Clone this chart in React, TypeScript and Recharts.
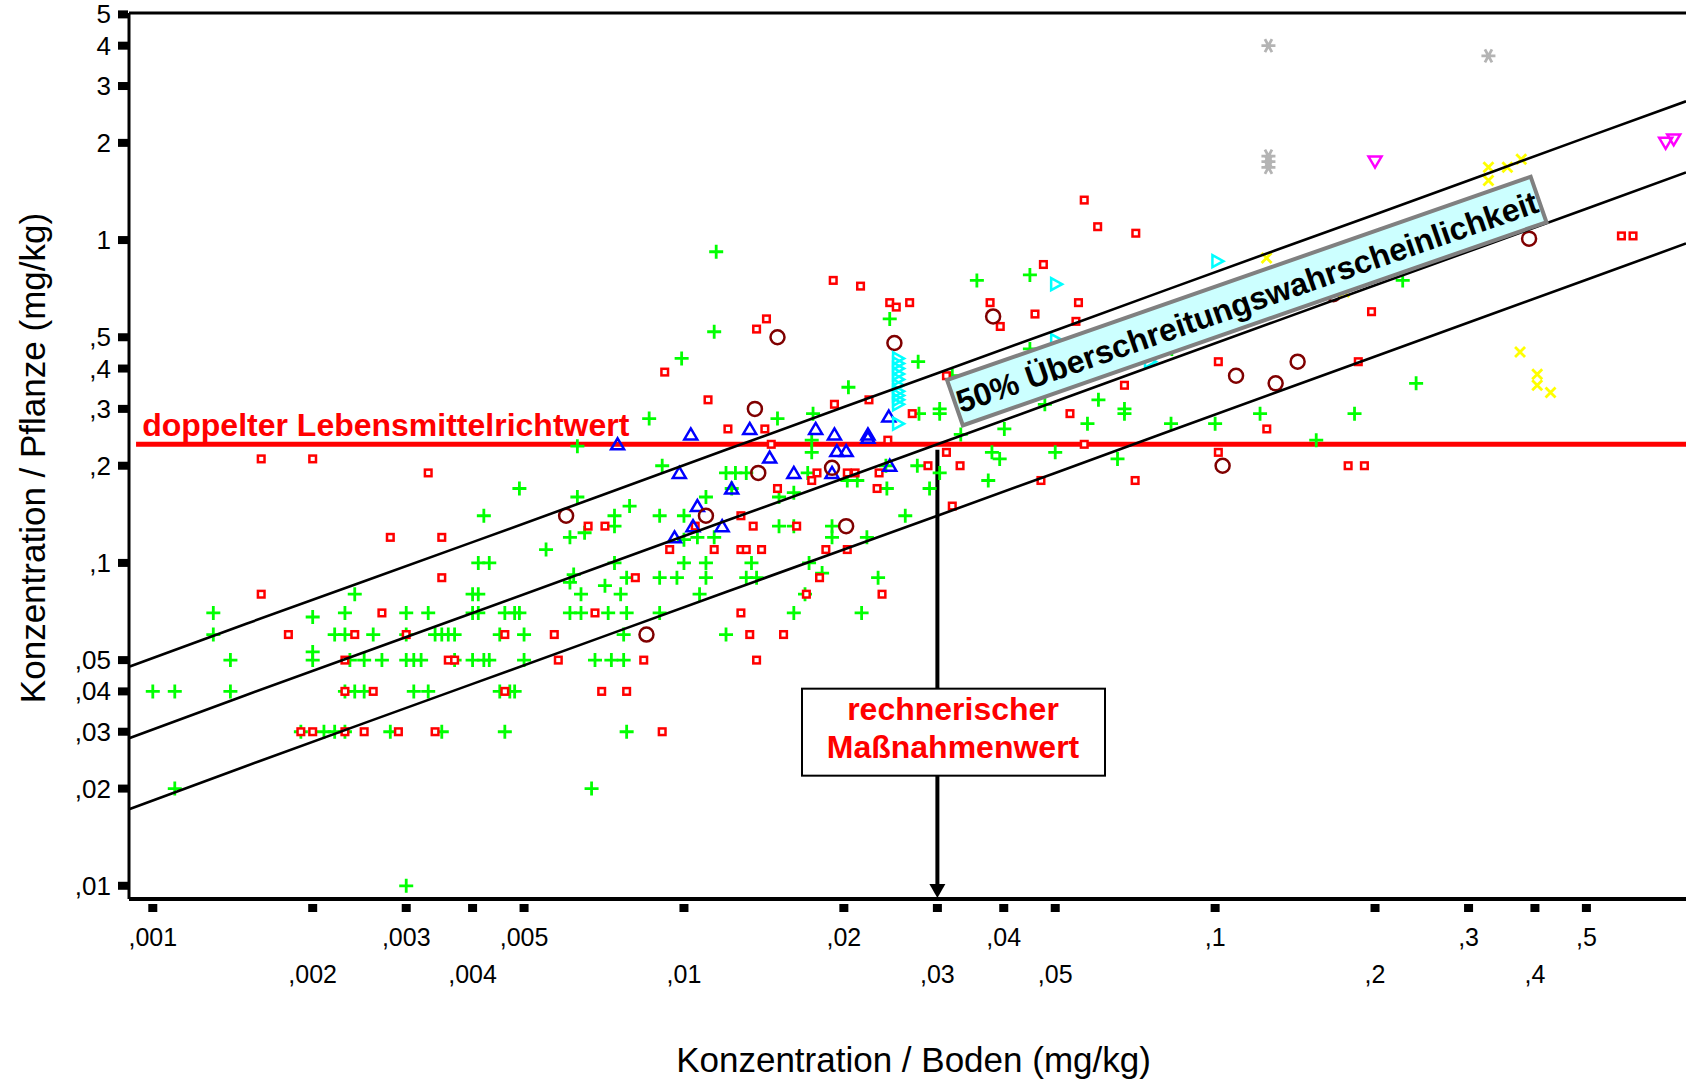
import React from "react";
import { ScatterChart, Scatter, XAxis, YAxis, ReferenceLine, ReferenceDot } from "recharts";

const FONT = '"Liberation Sans", Arial, Helvetica, sans-serif';

// axis ranges (log-log)
const X_MIN = 0.000902;
const X_MAX = 0.77;
const Y_MIN = 0.0091;
const Y_MAX = 5.05;

const X_TICKS = [0.001, 0.002, 0.003, 0.004, 0.005, 0.01, 0.02, 0.03, 0.04, 0.05, 0.1, 0.2, 0.3, 0.4, 0.5];
const X_TICK_LABELS = [",001", ",002", ",003", ",004", ",005", ",01", ",02", ",03", ",04", ",05", ",1", ",2", ",3", ",4", ",5"];
const X_TICK_ROW = [0, 1, 0, 1, 0, 1, 0, 1, 0, 1, 0, 1, 0, 1, 0];

const Y_TICKS = [0.01, 0.02, 0.03, 0.04, 0.05, 0.1, 0.2, 0.3, 0.4, 0.5, 1, 2, 3, 4, 5];
const Y_TICK_LABELS = [",01", ",02", ",03", ",04", ",05", ",1", ",2", ",3", ",4", ",5", "1", "2", "3", "4", "5"];

// reference values
const RICHTWERT = 0.233; // doppelter Lebensmittelrichtwert
const MASSNAHMENWERT = 0.03; // rechnerischer Maßnahmenwert (Boden)

// regression line and 50% band
const LINE_X = [0.000905, 0.0015, 0.0025, 0.004, 0.007, 0.012, 0.02, 0.03, 0.05, 0.08, 0.13, 0.2, 0.33, 0.5, 0.77];
const LINE_MID = [0.0287, 0.039, 0.0529, 0.07, 0.0978, 0.135, 0.183, 0.233, 0.316, 0.419, 0.56, 0.724, 0.976, 1.25, 1.62];
const LINE_UP = [0.0478, 0.0648, 0.0878, 0.116, 0.162, 0.224, 0.304, 0.387, 0.525, 0.696, 0.93, 1.2, 1.62, 2.08, 2.69];
const LINE_LOW = [0.0173, 0.0235, 0.0319, 0.0422, 0.0589, 0.0813, 0.11, 0.14, 0.19, 0.252, 0.337, 0.436, 0.588, 0.753, 0.976];

// [Boden, Pflanze] mg/kg
const GREEN_PLUS = [
  [0.003, 0.01],
  [0.0011, 0.02], [0.0067, 0.02],
  [0.0019, 0.03], [0.0021, 0.03], [0.0022, 0.03], [0.0023, 0.03], [0.0028, 0.03], [0.0035, 0.03], [0.0046, 0.03], [0.0078, 0.03],
  [0.001, 0.04], [0.0011, 0.04], [0.0014, 0.04], [0.0023, 0.04], [0.0024, 0.04], [0.0025, 0.04], [0.0031, 0.04], [0.0033, 0.04],
  [0.0045, 0.04], [0.0047, 0.04], [0.0048, 0.04],
  [0.0014, 0.05], [0.002, 0.05], [0.002, 0.053], [0.00235, 0.05], [0.0025, 0.05], [0.0027, 0.05], [0.003, 0.05], [0.0031, 0.05],
  [0.0032, 0.05], [0.0037, 0.05], [0.004, 0.05], [0.0042, 0.05], [0.0043, 0.05], [0.005, 0.05], [0.0068, 0.05], [0.0073, 0.05], [0.0077, 0.05],
  [0.0013, 0.06], [0.0022, 0.06], [0.0023, 0.06], [0.0026, 0.06], [0.003, 0.06], [0.0034, 0.06], [0.0035, 0.06], [0.0036, 0.06],
  [0.0037, 0.06], [0.0045, 0.06], [0.005, 0.06], [0.0077, 0.06], [0.012, 0.06],
  [0.0013, 0.07], [0.002, 0.068], [0.0023, 0.07], [0.003, 0.07], [0.0033, 0.07], [0.004, 0.07], [0.0041, 0.07], [0.0046, 0.07],
  [0.0048, 0.07], [0.0049, 0.07], [0.0061, 0.07], [0.0064, 0.07], [0.0072, 0.07], [0.0078, 0.07], [0.009, 0.07], [0.0161, 0.07], [0.0216, 0.07],
  [0.0024, 0.08], [0.004, 0.08], [0.0041, 0.08], [0.0064, 0.08], [0.0071, 0.085], [0.0076, 0.08], [0.0107, 0.08], [0.0169, 0.08],
  [0.0061, 0.087], [0.0062, 0.092], [0.0078, 0.09], [0.009, 0.09], [0.0097, 0.09], [0.011, 0.09], [0.0131, 0.09], [0.0137, 0.09],
  [0.0182, 0.093], [0.0232, 0.09],
  [0.0041, 0.1], [0.0043, 0.1], [0.0074, 0.1], [0.01, 0.1], [0.011, 0.1], [0.0134, 0.1], [0.0172, 0.1],
  [0.0055, 0.11], [0.0061, 0.12], [0.0065, 0.124], [0.01, 0.118], [0.0106, 0.12], [0.0114, 0.12], [0.019, 0.12], [0.0221, 0.12],
  [0.0074, 0.13], [0.0151, 0.13], [0.0161, 0.13], [0.019, 0.13], [0.0042, 0.14], [0.0074, 0.14], [0.009, 0.14], [0.01, 0.14], [0.0261, 0.14],
  [0.0079, 0.15], [0.0063, 0.16], [0.011, 0.16], [0.0151, 0.16], [0.0161, 0.165], [0.0049, 0.17], [0.0123, 0.17], [0.0241, 0.17], [0.029, 0.17],
  [0.0203, 0.18], [0.0212, 0.18], [0.0374, 0.18], [0.012, 0.19], [0.0125, 0.19], [0.0131, 0.19], [0.0171, 0.19], [0.0303, 0.19],
  [0.0091, 0.2], [0.024, 0.2], [0.0275, 0.2],
  [0.0174, 0.22], [0.038, 0.22], [0.0393, 0.21], [0.05, 0.22], [0.0655, 0.21], [0.0063, 0.23], [0.0174, 0.24], [0.155, 0.24],
  [0.0332, 0.25], [0.0401, 0.26], [0.0575, 0.27], [0.0826, 0.27], [0.1, 0.27], [0.0086, 0.28], [0.015, 0.28], [0.0175, 0.29],
  [0.0277, 0.29], [0.0303, 0.29], [0.0303, 0.3], [0.0675, 0.29], [0.0675, 0.3], [0.1215, 0.29], [0.183, 0.29],
  [0.0478, 0.31], [0.0603, 0.32], [0.0204, 0.35], [0.032, 0.38], [0.239, 0.36], [0.0099, 0.43], [0.0276, 0.42], [0.0448, 0.46],
  [0.0829, 0.46], [0.0114, 0.52], [0.0244, 0.57], [0.0356, 0.75], [0.0448, 0.78], [0.0115, 0.92], [0.2255, 0.75],
];

const RED_SQUARES = [
  [0.0019, 0.03], [0.002, 0.03], [0.0023, 0.03], [0.0025, 0.03], [0.0029, 0.03], [0.0034, 0.03], [0.0091, 0.03],
  [0.0023, 0.04], [0.0026, 0.04], [0.0046, 0.04], [0.007, 0.04], [0.0078, 0.04],
  [0.0023, 0.05], [0.0036, 0.05], [0.0037, 0.05], [0.0058, 0.05], [0.0084, 0.05], [0.0137, 0.05],
  [0.0018, 0.06], [0.0024, 0.06], [0.003, 0.06], [0.0046, 0.06], [0.0057, 0.06], [0.0133, 0.06], [0.0154, 0.06],
  [0.0027, 0.07], [0.0068, 0.07], [0.0128, 0.07],
  [0.0016, 0.08], [0.017, 0.08], [0.0236, 0.08],
  [0.0035, 0.09], [0.0081, 0.09], [0.018, 0.09],
  [0.0094, 0.11], [0.0114, 0.11], [0.0128, 0.11], [0.0131, 0.11], [0.014, 0.11], [0.0185, 0.11], [0.0203, 0.11],
  [0.0028, 0.12], [0.0035, 0.12],
  [0.0066, 0.13], [0.0071, 0.13], [0.0105, 0.13], [0.0135, 0.13], [0.0163, 0.13],
  [0.0128, 0.14], [0.032, 0.15], [0.015, 0.17], [0.0231, 0.17],
  [0.0174, 0.18], [0.047, 0.18], [0.0707, 0.18],
  [0.0033, 0.19], [0.0178, 0.19], [0.0203, 0.19], [0.021, 0.19], [0.0233, 0.19],
  [0.0288, 0.2], [0.0331, 0.2], [0.178, 0.2], [0.191, 0.2],
  [0.0016, 0.21], [0.002, 0.21], [0.0312, 0.22], [0.1014, 0.22],
  [0.0146, 0.233], [0.0567, 0.233],
  [0.0242, 0.24], [0.0121, 0.26], [0.0142, 0.26], [0.1251, 0.26],
  [0.0269, 0.29], [0.0533, 0.29], [0.0192, 0.31], [0.0223, 0.32], [0.0111, 0.32],
  [0.0675, 0.355], [0.0312, 0.38], [0.0092, 0.39], [0.1014, 0.42], [0.186, 0.42],
  [0.0137, 0.53], [0.0143, 0.57], [0.0394, 0.54], [0.0547, 0.56], [0.0458, 0.59], [0.197, 0.6],
  [0.0244, 0.64], [0.0251, 0.62], [0.0266, 0.64], [0.0377, 0.64], [0.0553, 0.64],
  [0.0215, 0.72], [0.0191, 0.75], [0.0475, 0.84], [0.0709, 1.05], [0.0601, 1.1], [0.0567, 1.33], [0.582, 1.03], [0.612, 1.03],
];

const BLUE_TRIANGLES = [
  [0.0075, 0.233], [0.0098, 0.19], [0.0103, 0.25], [0.0133, 0.26], [0.0145, 0.212], [0.0161, 0.19], [0.0177, 0.26],
  [0.019, 0.19], [0.0192, 0.25], [0.0194, 0.222], [0.0202, 0.222], [0.0222, 0.25], [0.0222, 0.244], [0.0244, 0.2],
  [0.0243, 0.284], [0.0106, 0.15], [0.0104, 0.13], [0.0118, 0.13], [0.0096, 0.12], [0.0123, 0.17],
];

const DARKRED_CIRCLES = [
  [0.006, 0.14], [0.0085, 0.06], [0.011, 0.14], [0.0138, 0.19], [0.0136, 0.3], [0.015, 0.5], [0.019, 0.197], [0.0202, 0.13],
  [0.0249, 0.48], [0.0382, 0.58], [0.1033, 0.2], [0.1095, 0.38], [0.13, 0.36], [0.143, 0.42], [0.167, 0.68], [0.39, 1.01],
];

const CYAN_TRIANGLES = [
  [0.0253, 0.43], [0.0253, 0.415], [0.0253, 0.4], [0.0253, 0.385], [0.0253, 0.37], [0.0253, 0.355], [0.0253, 0.34],
  [0.0253, 0.33], [0.0253, 0.32], [0.0253, 0.31], [0.0253, 0.27], [0.0502, 0.73], [0.0502, 0.49], [0.0754, 0.42], [0.101, 0.86],
];

const GRAY_STARS = [[0.126, 4.0], [0.327, 3.72], [0.126, 1.82], [0.126, 1.75], [0.126, 1.68]];
const MAGENTA_TRIANGLES = [[0.2, 1.75], [0.705, 2.0], [0.73, 2.05]];
const YELLOW_CROSSES = [
  [0.327, 1.68], [0.327, 1.53], [0.355, 1.68], [0.377, 1.78], [0.125, 0.88], [0.175, 0.69],
  [0.375, 0.45], [0.404, 0.384], [0.404, 0.355], [0.428, 0.337],
];

// annotation anchors (data coordinates)
const RICHTWERT_LABEL_X = 0.000955;
const RED_LINE_START_X = 0.00093;
const ARROW_TOP_Y = 0.224;
const MASS_BOX_X = 0.0321;
const MASS_BOX_Y = 0.0298;
const EXCEED_BOX_X = 0.1147;
const EXCEED_BOX_Y = 0.647;

const toPts = (arr: number[][]) => arr.map(([x, y]) => ({ x, y }));
const linePts = (ys: number[]) => LINE_X.map((x, i) => ({ x, y: ys[i] }));

type MarkProps = { cx?: number; cy?: number };

const PlusMark = ({ cx = 0, cy = 0 }: MarkProps) => (
  <path d={`M${cx - 7},${cy}H${cx + 7}M${cx},${cy - 7}V${cy + 7}`} stroke="#00ff00" strokeWidth={2.8} fill="none" />
);
const SquareMark = ({ cx = 0, cy = 0 }: MarkProps) => (
  <rect x={cx - 3.3} y={cy - 3.3} width={6.6} height={6.6} fill="#fff" stroke="#ff0000" strokeWidth={2.5} />
);
const TriUpMark = ({ cx = 0, cy = 0 }: MarkProps) => (
  <polygon points={`${cx},${cy - 6} ${cx + 6.5},${cy + 5} ${cx - 6.5},${cy + 5}`} fill="none" stroke="#0000ff" strokeWidth={2.5} />
);
const CircleMark = ({ cx = 0, cy = 0 }: MarkProps) => (
  <circle cx={cx} cy={cy} r={7} fill="none" stroke="#800000" strokeWidth={2.5} />
);
const TriRightMark = ({ cx = 0, cy = 0 }: MarkProps) => (
  <polygon points={`${cx - 5},${cy - 6} ${cx + 6},${cy} ${cx - 5},${cy + 6}`} fill="none" stroke="#00ffff" strokeWidth={2.5} />
);
const TriDownMark = ({ cx = 0, cy = 0 }: MarkProps) => (
  <polygon points={`${cx - 6.5},${cy - 5} ${cx + 6.5},${cy - 5} ${cx},${cy + 6}`} fill="none" stroke="#ff00ff" strokeWidth={2.5} />
);
const StarMark = ({ cx = 0, cy = 0 }: MarkProps) => (
  <path
    d={`M${cx - 7},${cy}H${cx + 7}M${cx - 3.5},${cy - 6.5}L${cx + 3.5},${cy + 6.5}M${cx + 3.5},${cy - 6.5}L${cx - 3.5},${cy + 6.5}`}
    stroke="#b4b4b4"
    strokeWidth={2.8}
    fill="none"
  />
);
const XMark = ({ cx = 0, cy = 0 }: MarkProps) => (
  <path d={`M${cx - 5},${cy - 5}L${cx + 5},${cy + 5}M${cx + 5},${cy - 5}L${cx - 5},${cy + 5}`} stroke="#ffff00" strokeWidth={2.8} fill="none" />
);

const findIdx = (ticks: number[], v: number) => ticks.findIndex((t) => Math.abs(t - v) < t * 1e-6);

const XTick = (props: any) => {
  const { x = 0, y = 0, payload } = props;
  const i = findIdx(X_TICKS, payload.value);
  return (
    <g>
      <rect x={x - 4.5} y={y + 5} width={9} height={8} fill="#000" />
      <text x={x} y={y + (X_TICK_ROW[i] === 0 ? 47 : 84)} textAnchor="middle" fontSize={25} fontFamily={FONT} fill="#000">
        {X_TICK_LABELS[i]}
      </text>
    </g>
  );
};

const YTick = (props: any) => {
  const { x = 0, y = 0, payload } = props;
  const i = findIdx(Y_TICKS, payload.value);
  return (
    <g>
      <rect x={x - 11} y={y - 4} width={10} height={8} fill="#000" />
      <text x={x - 18} y={y + 9} textAnchor="end" fontSize={26} fontFamily={FONT} fill="#000">
        {Y_TICK_LABELS[i]}
      </text>
    </g>
  );
};

const XTitle = (props: any) => {
  const vb = props.viewBox ?? { x: 129, y: 899, width: 1557, height: 184 };
  return (
    <text x={vb.x + vb.width / 2 + 6} y={vb.y + 173} textAnchor="middle" fontSize={35} fontFamily={FONT} fill="#000">
      Konzentration / Boden (mg/kg)
    </text>
  );
};

const YTitle = (props: any) => {
  const vb = props.viewBox ?? { x: 0, y: 13, width: 129, height: 886 };
  const x = vb.x + 45;
  const y = vb.y + vb.height / 2 + 2;
  return (
    <text x={x} y={y} transform={`rotate(-90 ${x} ${y})`} textAnchor="middle" fontSize={35} fontFamily={FONT} fill="#000">
      Konzentration / Pflanze (mg/kg)
    </text>
  );
};

const RichtwertLabel = ({ cx = 0, cy = 0 }: MarkProps) => (
  <text x={cx} y={cy - 8} fontSize={32} fontWeight="bold" fontFamily={FONT} fill="#ff0000">
    doppelter Lebensmittelrichtwert
  </text>
);

const MassBox = ({ cx = 0, cy = 0 }: MarkProps) => (
  <g>
    <rect x={cx - 151} y={cy - 44} width={303} height={87} fill="#fff" stroke="#000" strokeWidth={2} />
    <text x={cx} y={cy - 13} textAnchor="middle" fontSize={32} fontWeight="bold" fontFamily={FONT} fill="#ff0000">
      rechnerischer
    </text>
    <text x={cx} y={cy + 25} textAnchor="middle" fontSize={32} fontWeight="bold" fontFamily={FONT} fill="#ff0000">
      Maßnahmenwert
    </text>
  </g>
);

const ExceedBox = ({ cx = 0, cy = 0 }: MarkProps) => (
  <g transform={`translate(${cx},${cy}) rotate(-19.2)`}>
    <rect x={-309} y={-24} width={618} height={48} fill="#ccffff" stroke="#808080" strokeWidth={4} />
    <text x={0} y={12} textAnchor="middle" fontSize={32} fontWeight="bold" fontFamily={FONT} fill="#000">
      50% Überschreitungswahrscheinlichkeit
    </text>
  </g>
);

const ArrowShape = (props: any) => {
  const { x1, y1, x2, y2 } = props;
  const top = Math.min(y1, y2);
  const bottom = Math.max(y1, y2);
  return (
    <g>
      <line x1={x1} y1={top} x2={x2} y2={bottom - 12} stroke="#000" strokeWidth={4} />
      <polygon points={`${x1 - 8},${bottom - 15} ${x1 + 8},${bottom - 15} ${x1},${bottom - 1}`} fill="#000" />
    </g>
  );
};

const series = [
  { data: GREEN_PLUS, shape: PlusMark },
  { data: RED_SQUARES, shape: SquareMark },
  { data: BLUE_TRIANGLES, shape: TriUpMark },
  { data: DARKRED_CIRCLES, shape: CircleMark },
  { data: CYAN_TRIANGLES, shape: TriRightMark },
  { data: GRAY_STARS, shape: StarMark },
  { data: MAGENTA_TRIANGLES, shape: TriDownMark },
  { data: YELLOW_CROSSES, shape: XMark },
];

export default function App() {
  return (
    <div style={{ position: "absolute", left: 0, top: 0, width: 1686, height: 1083, background: "#fff" }}>
      <ScatterChart width={1686} height={1083} margin={{ top: 13, right: 0, bottom: 0, left: 0 }}>
        <XAxis
          type="number"
          dataKey="x"
          scale="log"
          domain={[X_MIN, X_MAX]}
          allowDataOverflow
          ticks={X_TICKS}
          interval={0}
          tick={(p: any) => <XTick {...p} />}
          tickLine={false}
          tickSize={0}
          tickMargin={0}
          axisLine={{ stroke: "#000", strokeWidth: 4 }}
          height={184}
          label={<XTitle />}
        />
        <YAxis
          type="number"
          dataKey="y"
          scale="log"
          domain={[Y_MIN, Y_MAX]}
          allowDataOverflow
          ticks={Y_TICKS}
          interval={0}
          tick={(p: any) => <YTick {...p} />}
          tickLine={false}
          tickSize={0}
          tickMargin={0}
          axisLine={{ stroke: "#000", strokeWidth: 3 }}
          width={129}
          label={<YTitle />}
        />
        <ReferenceLine y={Y_MAX} stroke="#000" strokeWidth={3} />

        {series.map((s, i) => (
          <Scatter
            key={i}
            data={toPts(s.data)}
            shape={(p: any) => <s.shape cx={p.cx} cy={p.cy} />}
            isAnimationActive={false}
          />
        ))}

        {[LINE_UP, LINE_MID, LINE_LOW].map((ys, i) => (
          <Scatter
            key={`line-${i}`}
            data={linePts(ys)}
            fill="#000"
            line={{ stroke: "#000", strokeWidth: 2.6 }}
            shape={() => <g />}
            isAnimationActive={false}
          />
        ))}

        <ReferenceLine
          segment={[
            { x: RED_LINE_START_X, y: RICHTWERT },
            { x: X_MAX, y: RICHTWERT },
          ]}
          stroke="#ff0000"
          strokeWidth={5}
        />
        <ReferenceLine
          segment={[
            { x: MASSNAHMENWERT, y: ARROW_TOP_Y },
            { x: MASSNAHMENWERT, y: Y_MIN },
          ]}
          shape={(p: any) => <ArrowShape {...p} />}
        />
        <ReferenceDot x={RICHTWERT_LABEL_X} y={RICHTWERT} r={0} shape={(p: any) => <RichtwertLabel cx={p.cx} cy={p.cy} />} />
        <ReferenceDot x={MASS_BOX_X} y={MASS_BOX_Y} r={0} shape={(p: any) => <MassBox cx={p.cx} cy={p.cy} />} />
        <ReferenceDot x={EXCEED_BOX_X} y={EXCEED_BOX_Y} r={0} shape={(p: any) => <ExceedBox cx={p.cx} cy={p.cy} />} />
      </ScatterChart>
    </div>
  );
}
